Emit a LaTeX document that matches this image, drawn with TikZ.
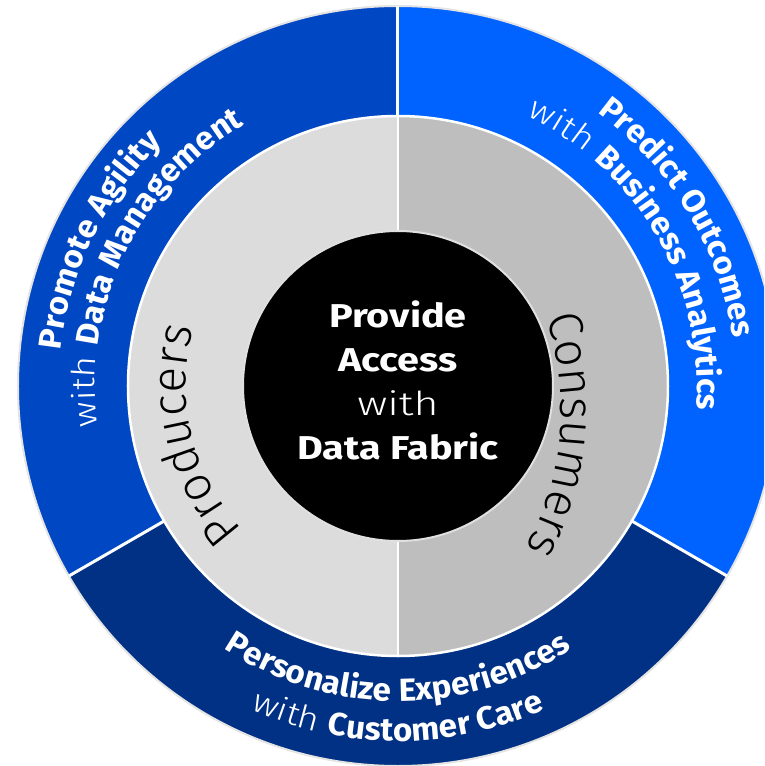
\documentclass[tikz,border=0pt]{standalone}
\usepackage{fontspec}
\setmainfont{Fira Sans}[FakeStretch=1.04]
\newfontfamily\lightfont{Fira Sans Light}[FakeStretch=1.15]
\newfontfamily\rolelight{Fira Sans Light}
\newfontfamily\hubfont{Fira Sans}[FakeStretch=1.2]
\newfontfamily\hublight{Fira Sans Light}[FakeStretch=1.3]
\usetikzlibrary{decorations.text}
\definecolor{agility}{RGB}{0,71,196}
\definecolor{outcomes}{RGB}{0,98,255}
\definecolor{care}{RGB}{0,49,132}
\definecolor{producer}{RGB}{220,220,220}
\definecolor{consumer}{RGB}{190,190,190}
\definecolor{rim}{RGB}{228,228,228}
\newcommand\ringbold{\fontsize{32}{32}\selectfont\rmfamily\bfseries\color{white}}
\newcommand\ringlight{\fontsize{32}{32}\selectfont\lightfont\mdseries\color{white}}
\newcommand\rolefont{\fontsize{48}{48}\selectfont\rolelight\mdseries\color{black}}

\begin{document}
\begin{tikzpicture}[x=1pt,y=1pt,
  split/.style={draw=white,line width=3pt},
  ring text/.style={decorate,decoration={text along path,text align=center,text={#1}}},
  hub/.style={circle,fill=black,draw=white!88!black,line width=2pt,minimum size=310pt,inner sep=0pt},
  hub text/.style={align=center,text=white,font=\fontsize{33}{44}\selectfont\hubfont\bfseries}]
\path[use as bounding box,clip] (-398,-380) rectangle (366,386);
\fill[agility] (0,0) -- (90:380) arc[start angle=90,end angle=210,radius=380] -- cycle;
\fill[care] (0,0) -- (210:380) arc[start angle=210,end angle=330,radius=380] -- cycle;
\fill[outcomes] (0,0) -- (330:380) arc[start angle=330,end angle=450,radius=380] -- cycle;
\draw[rim,line width=2pt] (0,0) circle[radius=380];
\foreach \a in {90,210,330}
  \draw[split] (0,0) -- (\a:380);
\fill[producer] (90:270) arc[start angle=90,end angle=270,radius=270] -- cycle;
\fill[consumer] (-90:270) arc[start angle=-90,end angle=90,radius=270] -- cycle;
\draw[white,line width=2.5pt] (0,0) circle[radius=270];
\draw[white,line width=2pt] (0,270) -- (0,-270);
\node[hub] (hub) at (0,0) {};
\node[hub text] (hub_text) at ([yshift=6]hub.center) {Provide\\Access\\{\hublight\mdseries with}\\Data Fabric};
\path[ring text={|\ringbold|Promote Agility}]
  (211:339) arc[start angle=211,end angle=97,radius=339];
\path[ring text={|\ringlight|with |\ringbold|Data Management}]
  (214:303) arc[start angle=214,end angle=94,radius=303];
\path[ring text={|\ringbold|Predict Outcomes}]
  (91:338) arc[start angle=91,end angle=-29,radius=338];
\path[ring text={|\ringlight|with |\ringbold|Business Analytics}]
  (90:299) arc[start angle=90,end angle=-30,radius=299];
\path[ring text={|\ringbold|Personalize Experiences}]
  (210:315) arc[start angle=210,end angle=330,radius=315];
\path[ring text={|\ringlight|with |\ringbold|Customer Care}]
  (210:355) arc[start angle=210,end angle=330,radius=355];
\path[ring text={|\rolefont|Producers}]
  (253.5:212) arc[start angle=253.5,end angle=133.5,radius=212];
\path[ring text={|\rolefont|Consumers}]
  ([shift={(-125,-24)}]55:288) arc[start angle=55,end angle=-65,radius=288];
\end{tikzpicture}
\end{document}
